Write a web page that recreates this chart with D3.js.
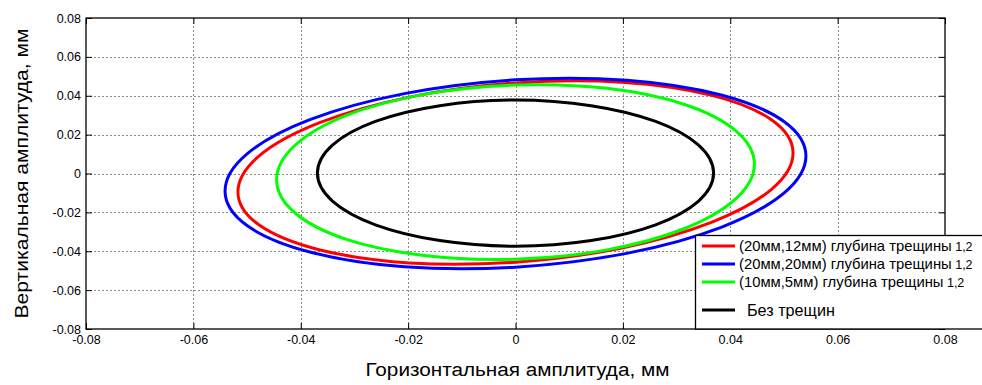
<!DOCTYPE html>
<html>
<head>
<meta charset="utf-8">
<script src="https://cdn.jsdelivr.net/npm/d3@7"></script>
<style>
  body { margin: 0; background: #fff; }
  svg text { font-family: "Liberation Sans", Arial, sans-serif; fill: #000; }
</style>
</head>
<body>
<svg id="chart" width="982" height="385"></svg>
<script>
// Axis ticks
const xTicks = [-0.08, -0.06, -0.04, -0.02, 0, 0.02, 0.04, 0.06, 0.08];
const yTicks = [-0.08, -0.06, -0.04, -0.02, 0, 0.02, 0.04, 0.06, 0.08];

// Orbit traces, [horizontal, vertical] amplitude in mm
const orbit20x12 = [
  [0.0517, 0.0105], [0.0478, 0.0274], [0.0366, 0.0402], [0.0198, 0.0470],
  [0.0000, 0.0466], [-0.0198, 0.0393], [-0.0366, 0.0260], [-0.0478, 0.0089],
  [-0.0517, -0.0095], [-0.0478, -0.0264], [-0.0366, -0.0392], [-0.0198, -0.0460],
  [0.0000, -0.0456], [0.0198, -0.0383], [0.0366, -0.0250], [0.0478, -0.0079]
];
const orbit20x20 = [
  [0.0541, 0.0090], [0.0500, 0.0268], [0.0383, 0.0404], [0.0207, 0.0480],
  [0.0000, 0.0482], [-0.0207, 0.0411], [-0.0383, 0.0277], [-0.0500, 0.0101],
  [-0.0541, -0.0090], [-0.0500, -0.0268], [-0.0383, -0.0404], [-0.0207, -0.0480],
  [0.0000, -0.0482], [0.0207, -0.0411], [0.0383, -0.0277], [0.0500, -0.0101]
];
const orbit10x5 = [
  [0.0445, 0.0048], [0.0411, 0.0218], [0.0315, 0.0355], [0.0170, 0.0438],
  [0.0000, 0.0455], [-0.0170, 0.0407], [-0.0315, 0.0299], [-0.0411, 0.0144],
  [-0.0445, -0.0032], [-0.0411, -0.0202], [-0.0315, -0.0339], [-0.0170, -0.0422],
  [0.0000, -0.0441], [0.0170, -0.0393], [0.0315, -0.0283], [0.0411, -0.0128]
];
const orbitIntact = [
  [0.0369, 0.0002], [0.0341, 0.0146], [0.0261, 0.0268], [0.0141, 0.0349],
  [0.0000, 0.0378], [-0.0141, 0.0349], [-0.0261, 0.0268], [-0.0341, 0.0146],
  [-0.0369, 0.0002], [-0.0341, -0.0142], [-0.0261, -0.0264], [-0.0141, -0.0345],
  [0.0000, -0.0374], [0.0141, -0.0345], [0.0261, -0.0264], [0.0341, -0.0142]
];

const seriesLabels = ["(20мм,12мм) глубина трещины", "(20мм,20мм) глубина трещины",
                      "(10мм,5мм) глубина трещины", "Без трещин"];
const seriesSuffix = ["1,2", "1,2", "1,2", ""];
const seriesData = [orbit20x12, orbit20x20, orbit10x5, orbitIntact];
const seriesColors = ["#ff0000", "#0000ff", "#00ff00", "#000000"];

const xTitle = "Горизонтальная амплитуда, мм";
const yTitle = "Вертикальная амплитуда, мм";

// Layout
const svg = d3.select("#chart");
const plot = { left: 86, right: 945, top: 18, bottom: 329 };

const x = d3.scaleLinear().domain([-0.08, 0.08]).range([plot.left, plot.right]);
const y = d3.scaleLinear().domain([-0.08, 0.08]).range([plot.bottom, plot.top]);
const fmt = d => d === 0 ? "0" : d.toFixed(2);

// Dotted grid
const grid = svg.append("g").attr("stroke", "#8a8a8a").attr("stroke-width", 1)
  .attr("stroke-dasharray", "2,2").attr("fill", "none");
grid.selectAll("line.gx").data(xTicks.slice(1, -1)).join("line")
  .attr("x1", d => Math.round(x(d)) + 0.5).attr("x2", d => Math.round(x(d)) + 0.5)
  .attr("y1", plot.top).attr("y2", plot.bottom);
grid.selectAll("line.gy").data(yTicks.slice(1, -1)).join("line")
  .attr("y1", d => Math.round(y(d)) + 0.5).attr("y2", d => Math.round(y(d)) + 0.5)
  .attr("x1", plot.left).attr("x2", plot.right);

// Axes with inward ticks on all four sides
function styleAxis(g) {
  g.selectAll(".domain").remove();
  g.selectAll(".tick line").attr("stroke", "#000").attr("stroke-width", 1);
  g.selectAll(".tick text").attr("font-size", 12.5).attr("fill", "#000")
    .style("font-family", "'Liberation Sans', Arial, sans-serif");
}
svg.append("g").attr("transform", `translate(0,${plot.bottom})`)
  .call(d3.axisBottom(x).tickValues(xTicks).tickFormat(fmt).tickSizeInner(-6).tickSizeOuter(0).tickPadding(6))
  .call(styleAxis);
svg.append("g").attr("transform", `translate(${plot.left},0)`)
  .call(d3.axisLeft(y).tickValues(yTicks).tickFormat(fmt).tickSizeInner(-6).tickSizeOuter(0).tickPadding(5))
  .call(styleAxis);
svg.append("g").attr("transform", `translate(0,${plot.top})`)
  .call(d3.axisTop(x).tickValues(xTicks).tickFormat("").tickSizeInner(-6).tickSizeOuter(0))
  .call(styleAxis);
svg.append("g").attr("transform", `translate(${plot.right},0)`)
  .call(d3.axisRight(y).tickValues(yTicks).tickFormat("").tickSizeInner(-6).tickSizeOuter(0))
  .call(styleAxis);

// Orbits
const line = d3.line().x(d => x(d[0])).y(d => y(d[1]))
  .curve(d3.curveCardinalClosed.tension(0));
svg.append("g").selectAll("path").data(seriesData).join("path")
  .attr("d", line).attr("fill", "none")
  .attr("stroke", (d, i) => seriesColors[i]).attr("stroke-width", 3);

// Plot frame
svg.append("rect")
  .attr("x", plot.left).attr("y", plot.top)
  .attr("width", plot.right - plot.left).attr("height", plot.bottom - plot.top)
  .attr("fill", "none").attr("stroke", "#000").attr("stroke-width", 1.3);

// Legend
const legend = svg.append("g");
legend.append("rect").attr("x", 695.5).attr("y", 235.5).attr("width", 300).attr("height", 93.5)
  .attr("fill", "#fff").attr("stroke", "#000").attr("stroke-width", 1.3);
const rowY = [246, 264, 282, 310];
const rows = legend.selectAll("g.row").data(seriesLabels).join("g")
  .attr("transform", (d, i) => `translate(0,${rowY[i]})`);
rows.append("line").attr("x1", 702).attr("x2", 735).attr("y1", 0).attr("y2", 0)
  .attr("stroke", (d, i) => seriesColors[i]).attr("stroke-width", 3);
const labels = rows.append("text")
  .attr("x", (d, i) => seriesSuffix[i] ? 739 : 747)
  .attr("dy", "0.35em").attr("font-size", (d, i) => seriesSuffix[i] ? 14.8 : 16.2);
labels.append("tspan").text(d => d);
labels.append("tspan").attr("font-size", 12.5).text((d, i) => seriesSuffix[i] ? " " + seriesSuffix[i] : "");

// Axis titles
svg.append("text").attr("x", (plot.left + plot.right) / 2 + 2).attr("y", 376)
  .attr("text-anchor", "middle").attr("font-size", 18)
  .attr("textLength", 304).attr("lengthAdjust", "spacingAndGlyphs").text(xTitle);
svg.append("text").attr("transform", `translate(28,${(plot.top + plot.bottom) / 2}) rotate(-90)`)
  .attr("text-anchor", "middle").attr("font-size", 18)
  .attr("textLength", 290).attr("lengthAdjust", "spacingAndGlyphs").text(yTitle);
</script>
</body>
</html>
